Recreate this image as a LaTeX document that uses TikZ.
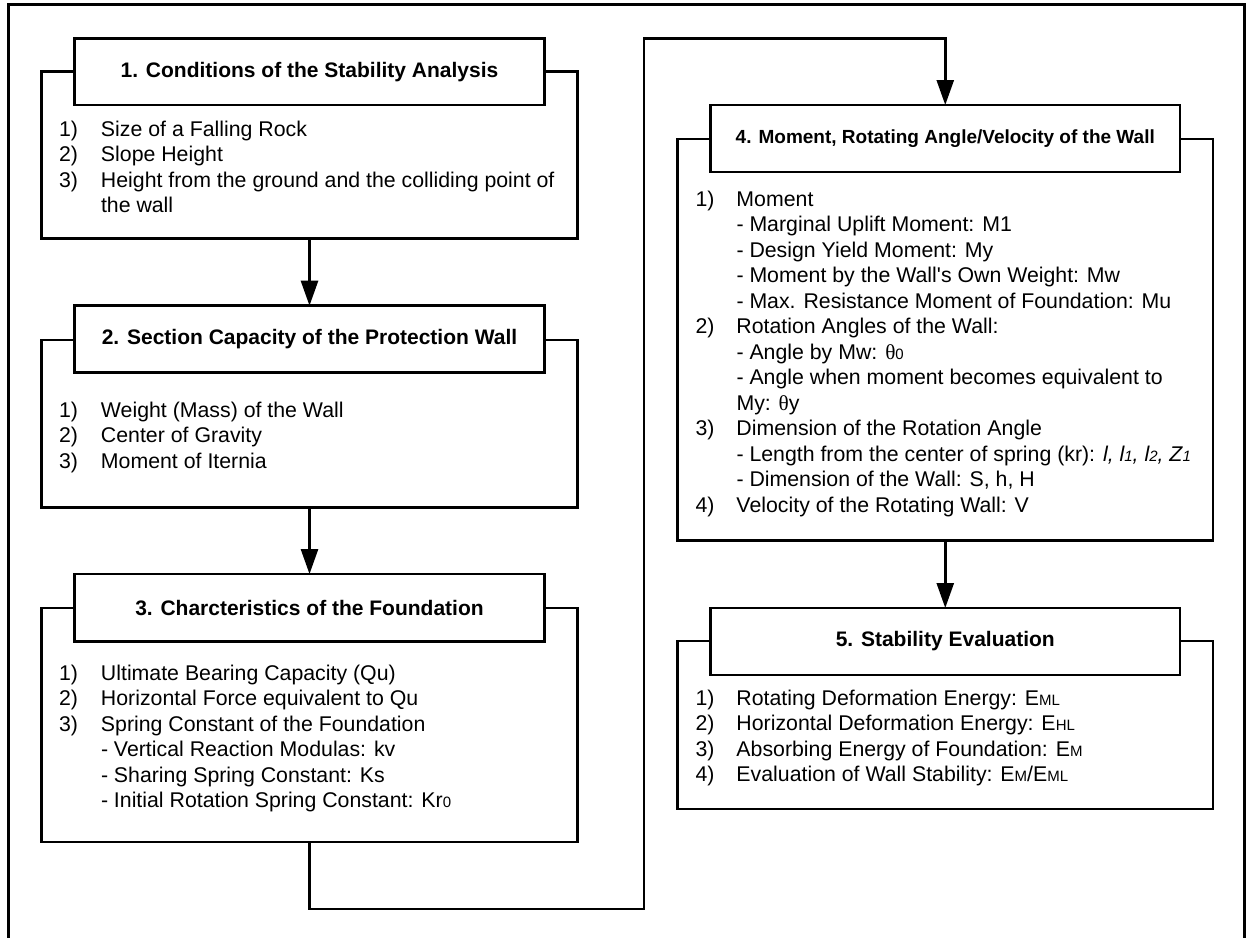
\documentclass[tikz,border=0pt]{standalone}
\usepackage{fontspec}
\setmainfont{Liberation Sans}
\newfontfamily\grkfont{Liberation Serif}
\usetikzlibrary{arrows.meta}
\newcommand{\lowsub}[1]{{\fontsize{15}{15}\selectfont #1}}
\newcommand{\thet}{{\grkfont θ}}
\tikzset{
  line/.style={draw=black, line width=2.6pt},
  bodybox/.style={draw=black, line width=2.6pt, fill=white, rectangle, inner sep=0pt, outer sep=0pt},
  hdrbox/.style={draw=black, line width=2.6pt, fill=white, rectangle, inner sep=0pt, outer sep=0pt,
     font=\fontsize{21}{25}\selectfont\bfseries},
  txt/.style={anchor=base west, inner sep=0pt, outer sep=0pt, align=left,
     font=\fontsize{21.3}{25.5}\selectfont},
  arr/.style={draw=black, line width=2.6pt, -{Triangle[length=25pt,width=17pt]}},
}
\begin{document}
\begin{tikzpicture}[x=1pt,y=-1pt]
\useasboundingbox (0,0) rectangle (1246,937);
\fill[white] (0,0) rectangle (1246,937);
% outer frame (open at bottom, runs past the page edge)
\draw[line, line width=3pt] (8,960) -- (8,4.5) -- (1244,4.5) -- (1244,960);

% ---------- Box 1 ----------
\node[bodybox, minimum width=535.5pt, minimum height=166.6pt] (b1) at (309.5,155) {};
\node[hdrbox, minimum width=469.5pt, minimum height=66.7pt] (h1) at (309.5,71.7) {1. Conditions of the Stability Analysis};
\node[txt] (t1) at (59,136) {\begin{tabular}[t]{@{}p{42pt}@{}l@{}}
1) & Size of a Falling Rock\\
2) & Slope Height\\
3) & Height from the ground and the colliding point of\\
   & the wall
\end{tabular}};

% ---------- Box 2 ----------
\node[bodybox, minimum width=535.5pt, minimum height=167.3pt] (b2) at (309.5,423.6) {};
\node[hdrbox, minimum width=469.5pt, minimum height=67pt] (h2) at (309.5,339.2) {2. Section Capacity of the Protection Wall};
\node[txt] (t2) at (59,417) {\begin{tabular}[t]{@{}p{42pt}@{}l@{}}
1) & Weight (Mass) of the Wall\\
2) & Center of Gravity\\
3) & Moment of Iternia
\end{tabular}};

% ---------- Box 3 ----------
\node[bodybox, minimum width=535.5pt, minimum height=234pt] (b3) at (309.5,725) {};
\node[hdrbox, minimum width=469.5pt, minimum height=67.7pt] (h3) at (309.5,607.9) {3. Charcteristics of the Foundation};
\node[txt] (t3) at (59,680) {\begin{tabular}[t]{@{}p{42pt}@{}l@{}}
1) & Ultimate Bearing Capacity (Qu)\\
2) & Horizontal Force equivalent to Qu\\
3) & Spring Constant of the Foundation\\
   & - Vertical Reaction Modulas: kv\\
   & - Sharing Spring Constant: Ks\\
   & - Initial Rotation Spring Constant: Kr\lowsub{0}
\end{tabular}};

% ---------- Box 4 ----------
\node[bodybox, minimum width=535.5pt, minimum height=401.7pt] (b4) at (945.25,339.85) {};
\node[hdrbox, minimum width=469.5pt, minimum height=67pt, font=\fontsize{19}{23}\selectfont\bfseries] (h4) at (945.25,138.5) {4. Moment, Rotating Angle/Velocity of the Wall};
\node[txt] (t4) at (695.5,206) {\begin{tabular}[t]{@{}p{41pt}@{}l@{}}
1) & Moment\\
   & - Marginal Uplift Moment: M1\\
   & - Design Yield Moment: My\\
   & - Moment by the Wall\textquotesingle s Own Weight: Mw\\
   & - Max. Resistance Moment of Foundation: Mu\\
2) & Rotation Angles of the Wall:\\
   & - Angle by Mw: \thet\lowsub{0}\\
   & - Angle when moment becomes equivalent to\\
   & My: \thet y\\
3) & Dimension of the Rotation Angle\\
   & - Length from the center of spring (kr): \textit{l, l\lowsub{1}, l\lowsub{2}, Z\lowsub{1}}\\
   & - Dimension of the Wall: S, h, H\\
4) & Velocity of the Rotating Wall: V
\end{tabular}};

% ---------- Box 5 ----------
\node[bodybox, minimum width=535.5pt, minimum height=168pt] (b5) at (945.25,725) {};
\node[hdrbox, minimum width=469.5pt, minimum height=67pt] (h5) at (945.25,641.5) {5. Stability Evaluation};
\node[txt] (t5) at (695.5,705) {\begin{tabular}[t]{@{}p{41pt}@{}l@{}}
1) & Rotating Deformation Energy: E\lowsub{ML}\\
2) & Horizontal Deformation Energy: E\lowsub{HL}\\
3) & Absorbing Energy of Foundation: E\lowsub{M}\\
4) & Evaluation of Wall Stability: E\lowsub{M}/E\lowsub{ML}
\end{tabular}};

% ---------- connectors ----------
\coordinate (c1) at (644,909);
\coordinate (c2) at (644,38.5);
\draw[arr] (b1.south) -- (h2.north);
\draw[arr] (b2.south) -- (h3.north);
\draw[arr] (b3.south) |- (c1) -- (c2) -| (h4.north);
\draw[arr] (b4.south) -- (h5.north);
\end{tikzpicture}
\end{document}
